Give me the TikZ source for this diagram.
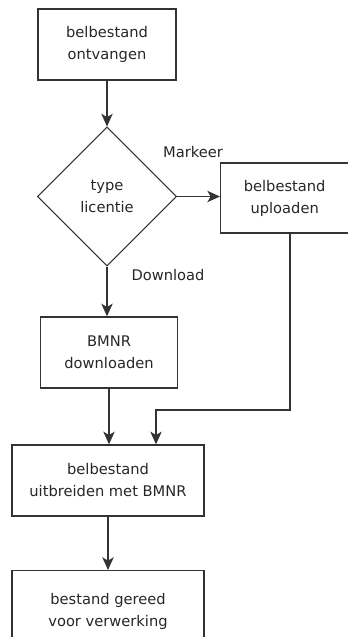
\documentclass[tikz,border=0pt]{standalone}
\usepackage{fontspec}
\setmainfont{DejaVu Sans}
\usetikzlibrary{arrows.meta,shapes.geometric}
\begin{document}
\begin{tikzpicture}[x=0.75pt,y=-0.75pt,
  every node/.style={font=\fontsize{11}{16.5}\selectfont, text=black!85},
  box/.style={draw=black!80, line width=1pt, align=center, inner sep=0pt},
  dec/.style={draw=black!80, line width=0.8pt, diamond, align=center, inner sep=0pt, minimum width=139*0.75pt, minimum height=139*0.75pt},
  conn/.style={draw=black!80, line width=1pt, -{Stealth[length=9.5pt,width=8.5pt,inset=2.5pt]}},
  lbl/.style={font=\fontsize{11}{13}\selectfont}]
\useasboundingbox (0,0) rectangle (348,637);
\node[box, minimum width=138*0.75pt, minimum height=71*0.75pt] (a) at (107,44.5) {belbestand\\ontvangen};
\node[dec] (d) at (107,196.5) {type\\licentie};
\node[box, minimum width=128*0.75pt, minimum height=70*0.75pt, anchor=west] (u) at (220,198) {belbestand\\uploaden};
\node[box, minimum width=137*0.75pt, minimum height=71*0.75pt] (b) at (109,352.5) {BMNR\\downloaden};
\node[box, minimum width=192*0.75pt, minimum height=71*0.75pt] (e) at (108,480.5) {belbestand\\uitbreiden met BMNR};
\node[box, minimum width=192*0.75pt, minimum height=82*0.75pt, anchor=north] (f) at (108,570) {bestand gereed\\voor verwerking};
\node[lbl] (m) at (193,152) {Markeer};
\node[lbl] (dl) at (168,275.5) {Download};
\coordinate (k1) at (290,410);
\coordinate (k2) at (156,410);
\draw[conn] (a.south) -- (d.north);
\draw[conn] (d.east) -- (u.west |- d.east);
\draw[conn] (d.south) -- (d.south |- b.north);
\draw[conn] (b.south) -- (b.south |- e.north);
\draw[conn] (u.south -| k1) -- (k1) -- (k2) -- (k2 |- e.north);
\draw[conn] (e.south) -- (f.north);
\end{tikzpicture}
\end{document}
